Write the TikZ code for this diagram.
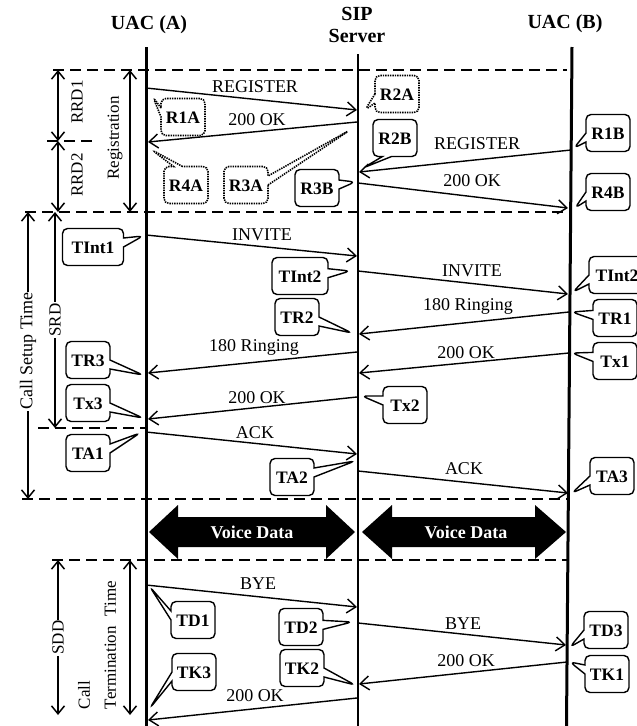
\documentclass[tikz,border=0pt]{standalone}
\usepackage{fontspec}
\setmainfont{Liberation Serif}
\usetikzlibrary{arrows.meta,shapes.callouts}
\begin{document}
\begin{tikzpicture}[x=1pt,y=-1pt,
  lifeA/.style={line width=3pt},
  lifeS/.style={line width=2pt},
  dashln/.style={line width=1.4pt, dash pattern=on 11pt off 6pt},
  msg/.style={line width=1.4pt, -{Straight Barb[length=9pt,width=14pt,line width=1.4pt]}},
  dimarr/.style={line width=1.5pt, {Straight Barb[length=8pt,width=13pt]}-{Straight Barb[length=8pt,width=13pt]}},
  lbl/.style={font=\fontsize{18}{20}\selectfont, inner sep=0pt, text height=12pt, text depth=0pt},
  hdr/.style={font=\fontsize{20}{22}\selectfont\bfseries, align=center},
  co/.style={rectangle callout, draw, fill=white, line width=1.4pt, rounded corners=5pt,
     font=\fontsize{17.5}{20}\selectfont\bfseries, text height=12pt, text depth=0pt,
     inner xsep=4pt, minimum width=44pt, minimum height=37pt, callout pointer width=9pt},
  cod/.style={co, densely dotted, line width=1.6pt},
  vlbl/.style={font=\fontsize{17}{20}\selectfont, rotate=90, inner sep=1pt, fill=white},
  voice/.style={font=\fontsize{18}{20}\selectfont\bfseries, text=white, inner sep=0pt},
]
\useasboundingbox (0,0) rectangle (637,726);

% headers
\node[hdr] (hA) at (149,25) {UAC (A)};
\node[hdr] (hS) at (357,25) {SIP\\Server};
\node[hdr] (hB) at (565,24) {UAC (B)};

% lifelines
\coordinate (Atop) at (146,47);   \coordinate (Abot) at (146,726);
\coordinate (Stop) at (357.5,54); \coordinate (Sbot) at (357.5,726);
\coordinate (Btop) at (572,47);   \coordinate (Bbot) at (566.5,726);
\draw[lifeA] (Atop) -- (Abot);
\draw[lifeS] (Stop) -- (Sbot);
\draw[lifeA] (Btop) -- (Bbot);

% dashed separators
\draw[dashln] (53,70) -- (567,70);
\draw[dashln] (47,141) -- (93,141);
\draw[dashln] (25,212) -- (567,212);
\draw[dashln] (38,428) -- (146,428);
\draw[dashln] (22,499) -- (567,499);
\draw[dashln] (52,560) -- (567,560);

% dimension arrows
\coordinate (d1a) at (58,70);  \coordinate (d1b) at (58,141);  \coordinate (d1c) at (58,212);
\draw[dimarr] (d1a) -- (d1b);
\draw[dimarr] (d1b) -- (d1c);
\node[vlbl, fill=none] (rrd1) at (77,102) {RRD1};
\node[vlbl, fill=none] (rrd2) at (77,175) {RRD2};
\coordinate (d2a) at (130,70); \coordinate (d2b) at (130,212);
\draw[dimarr] (d2a) -- (d2b);
\node[vlbl, fill=none] (reg) at (115,138) {Registration};

\coordinate (d3a) at (55,212); \coordinate (d3b) at (55,428);
\draw[dimarr] (d3a) -- node[vlbl] (srd) {SRD} (d3b);
\coordinate (d4a) at (28,212); \coordinate (d4b) at (28,499);
\draw[dimarr] (d4a) -- node[vlbl, pos=0.485, font=\fontsize{18}{20}\selectfont] (cst) {Call Setup Time} (d4b);
\coordinate (d5a) at (58,560); \coordinate (d5b) at (58,715);
\draw[dimarr] (d5a) -- node[vlbl] (sdd) {SDD} (d5b);
\coordinate (d6a) at (130,560); \coordinate (d6b) at (130,715);
\draw[dimarr] (d6a) -- (d6b);
\node[vlbl, fill=none, align=left, font=\fontsize{17}{26}\selectfont] (ctt) at (97,645) {Call\\Termination\hspace{10pt}Time};

% registration messages
\coordinate (m1s) at (146,88);  \coordinate (m1e) at (357,110);
\coordinate (m2s) at (357,122); \coordinate (m2e) at (148,142);
\coordinate (m3s) at (571,150); \coordinate (m3e) at (359,172);
\coordinate (m4s) at (358,183); \coordinate (m4e) at (568,208);
\draw[msg] (m1s) -- (m1e);
\draw[msg] (m2s) -- (m2e);
\draw[msg] (m3s) -- (m3e);
\draw[msg] (m4s) -- (m4e);
\node[lbl] (l1) at (255,86) {REGISTER};
\node[lbl] (l2) at (257,119) {200 OK};
\node[lbl] (l3) at (477,143) {REGISTER};
\node[lbl] (l4) at (472,180) {200 OK};

% call setup messages
\coordinate (m5s) at (146,235);  \coordinate (m5e) at (357,256);
\coordinate (m6s) at (358,271);  \coordinate (m6e) at (568,294);
\coordinate (m7s) at (569,312);  \coordinate (m7e) at (359,334);
\coordinate (m8s) at (357,352);  \coordinate (m8e) at (148,373);
\coordinate (m9s) at (569,353);  \coordinate (m9e) at (359,373);
\coordinate (m10s) at (357,397); \coordinate (m10e) at (148,419);
\coordinate (m11s) at (146,432); \coordinate (m11e) at (357,454);
\coordinate (m12s) at (358,471); \coordinate (m12e) at (568,493);
\foreach \i in {5,...,12} {\draw[msg] (m\i s) -- (m\i e);}
\node[lbl] (l5) at (262,234) {INVITE};
\node[lbl] (l6) at (472,270) {INVITE};
\node[lbl] (l7) at (468,304) {180 Ringing};
\node[lbl] (l8) at (254,345) {180 Ringing};
\node[lbl] (l9) at (466,352) {200 OK};
\node[lbl] (l10) at (257,397) {200 OK};
\node[lbl] (l11) at (255,432) {ACK};
\node[lbl] (l12) at (464,468) {ACK};

% termination messages
\coordinate (m13s) at (146,585); \coordinate (m13e) at (357,607);
\coordinate (m14s) at (358,623); \coordinate (m14e) at (566,645);
\coordinate (m15s) at (567,662); \coordinate (m15e) at (359,684);
\coordinate (m16s) at (357,698); \coordinate (m16e) at (148,720);
\foreach \i in {13,...,16} {\draw[msg] (m\i s) -- (m\i e);}
\node[lbl] (l13) at (258,583) {BYE};
\node[lbl] (l14) at (463,623) {BYE};
\node[lbl] (l15) at (466,660) {200 OK};
\node[lbl] (l16) at (255,695) {200 OK};

% voice data arrows
\fill (149,532) -- (178,505) -- (178,517) -- (326,517) -- (326,505) -- (355,532)
   -- (326,559) -- (326,547) -- (178,547) -- (178,559) -- cycle;
\fill (362,532) -- (392,505) -- (392,517) -- (535,517) -- (535,505) -- (566,532)
   -- (535,559) -- (535,547) -- (392,547) -- (392,559) -- cycle;
\node[voice] (v1) at (252,532) {Voice Data};
\node[voice] (v2) at (466,532) {Voice Data};

% callouts - registration
\node[cod, callout absolute pointer={(153,97)}]  (r1a) at (183,117) {R1A};
\node[cod, callout absolute pointer={(152,150)}] (r4a) at (186,185) {R4A};
\node[cod, callout absolute pointer={(350,130)}] (r3a) at (246,185) {R3A};
\node[cod, callout absolute pointer={(365,110)}] (r2a) at (397,94) {R2A};
\node[co, callout absolute pointer={(363,168)}]  (r2b) at (395,138) {R2B};
\node[co, callout absolute pointer={(355,182)}]  (r3b) at (317,188) {R3B};
\node[co, callout absolute pointer={(574,148)}]  (r1b) at (608,133) {R1B};
\node[co, callout absolute pointer={(575,208)}]  (r4b) at (608,192) {R4B};

% callouts - call setup
\node[co, minimum width=61pt, callout absolute pointer={(143,236)}] (ti1) at (93,247) {TInt1};
\node[co, minimum width=56pt, callout absolute pointer={(350,271)}] (ti2a) at (300,276) {TInt2};
\node[co, minimum width=56pt, callout absolute pointer={(573,292)}] (ti2b) at (617,275) {TInt2};
\node[co, callout absolute pointer={(352,333)}] (tr2) at (297,317) {TR2};
\node[co, callout absolute pointer={(572,312)}] (tr1) at (615,318) {TR1};
\node[co, callout absolute pointer={(143,375)}] (tr3) at (88,360) {TR3};
\node[co, callout absolute pointer={(572,353)}] (tx1) at (615,361) {Tx1};
\node[co, callout absolute pointer={(362,396)}] (tx2) at (405,405) {Tx2};
\node[co, callout absolute pointer={(143,418)}] (tx3) at (88,403) {Tx3};
\node[co, callout absolute pointer={(140,433)}] (ta1) at (88,453) {TA1};
\node[co, callout absolute pointer={(355,461)}] (ta2) at (292,477) {TA2};
\node[co, callout absolute pointer={(572,493)}] (ta3) at (612,476) {TA3};

% callouts - termination
\node[co, callout absolute pointer={(150,587)}] (td1) at (193,620) {TD1};
\node[co, callout absolute pointer={(150,708)}] (tk3) at (194,672) {TK3};
\node[co, callout absolute pointer={(352,622)}] (td2) at (301,627) {TD2};
\node[co, callout absolute pointer={(355,685)}] (tk2) at (302,668) {TK2};
\node[co, callout absolute pointer={(570,647)}] (td3) at (606,630) {TD3};
\node[co, callout absolute pointer={(570,662)}] (tk1) at (607,674) {TK1};
\end{tikzpicture}
\end{document}
